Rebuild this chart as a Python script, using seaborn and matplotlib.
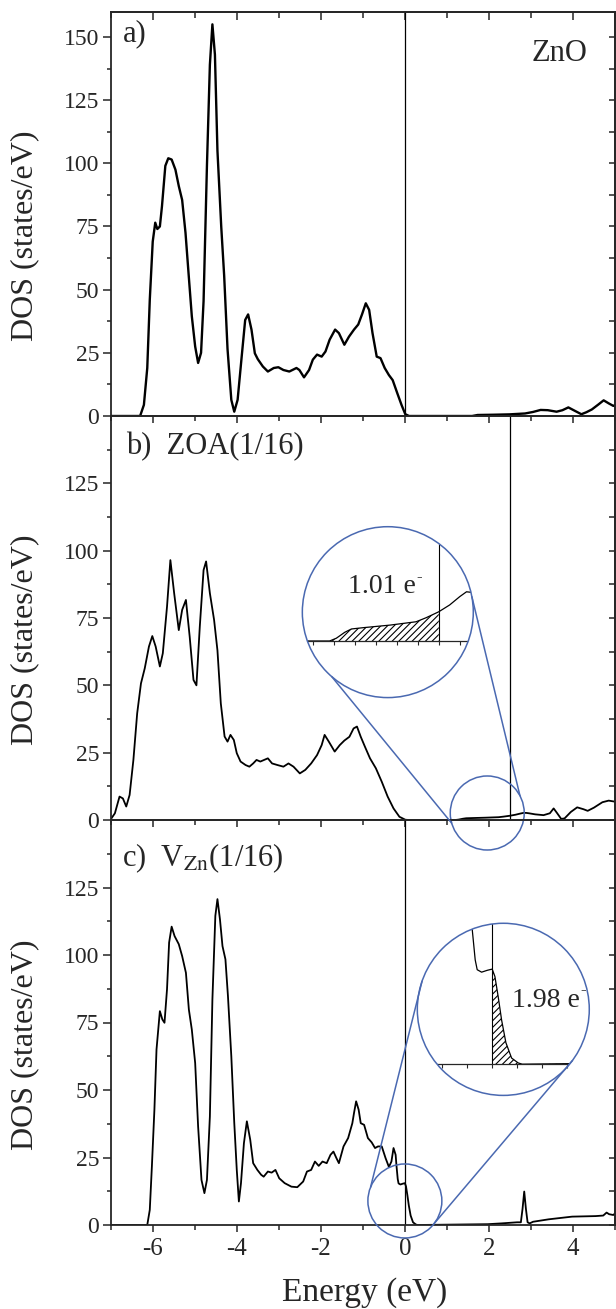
import numpy as np
import matplotlib
matplotlib.use("Agg")
import matplotlib.pyplot as plt
import matplotlib.patches as mpatches
from matplotlib.patches import ConnectionPatch
from matplotlib.ticker import MultipleLocator, FixedLocator
import seaborn as sns

sns.set_theme(style="ticks")
plt.rcParams["font.family"] = ["Liberation Serif", "DejaVu Serif"]
plt.rcParams["mathtext.fontset"] = "stix"
plt.rcParams["axes.unicode_minus"] = False
plt.rcParams["hatch.linewidth"] = 0.8

# ---------------------------------------------------------
# DOS data (energy in eV, DOS in states/eV)
# ---------------------------------------------------------
# a) ZnO
energy_a = [-7.0, -6.4, -6.30, -6.21, -6.13, -6.07, -6.0, -5.94, -5.89, -5.83, -5.78,
            -5.70, -5.63, -5.55, -5.46, -5.38, -5.30, -5.22, -5.15, -5.07, -4.99,
            -4.92, -4.85, -4.79, -4.71, -4.64, -4.58, -4.52, -4.46, -4.37, -4.30,
            -4.22, -4.13, -4.06, -3.98, -3.89, -3.80, -3.73, -3.65, -3.57, -3.50,
            -3.38, -3.26, -3.12, -3.01, -2.89, -2.75, -2.58, -2.51, -2.40, -2.28,
            -2.19, -2.09, -1.98, -1.89, -1.79, -1.66, -1.57, -1.44, -1.33, -1.21,
            -1.11, -1.02, -0.93, -0.85, -0.77, -0.67, -0.58, -0.48, -0.38, -0.29,
            -0.18, -0.08, 0.01, 0.10, 1.60, 1.73, 2.10, 2.49, 2.86, 3.05, 3.23,
            3.40, 3.61, 3.75, 3.89, 4.05, 4.20, 4.32, 4.45, 4.60, 4.73, 4.85, 4.96, 5.0]
dos_a = [0, 0, 0, 4.4, 19, 46, 69, 76.5, 74, 75, 83, 99, 102, 101.5, 97.5, 91, 85.5,
         72.5, 57, 39.5, 27.5, 21, 25, 45.5, 99, 139, 155, 143, 105, 75, 55.5,
         26.5, 6.4, 1.7, 6.4, 22.3, 38, 40.2, 34.2, 24.8, 22.5, 19.6, 17.6, 19,
         19.3, 18.2, 17.6, 19, 18.2, 15.3, 18.2, 22.3, 24.3, 23.5, 25.5, 30.2,
         34.2, 32.8, 28.2, 31.4, 34.2, 36.2, 40.2, 44.6, 42, 32.8, 23.5, 22.9,
         19, 16.2, 14.2, 9, 4.4, 0.7, 0, 0, 0.4, 0.5, 0.65, 1.0, 1.6, 2.4, 2.3,
         1.7, 2.3, 3.4, 2.0, 0.7, 1.5, 2.6, 4.5, 6.2, 5.0, 4.0, 4.3]

# b) ZOA(1/16)
energy_b = [-7.01, -6.90, -6.79, -6.71, -6.63, -6.55, -6.46, -6.37, -6.28, -6.19,
            -6.09, -6.01, -5.93, -5.83, -5.76, -5.66, -5.58, -5.49, -5.38, -5.30,
            -5.21, -5.12, -5.03, -4.96, -4.88, -4.79, -4.73, -4.64, -4.54, -4.46,
            -4.38, -4.29, -4.22, -4.15, -4.07, -4.00, -3.91, -3.79, -3.70, -3.61,
            -3.53, -3.44, -3.35, -3.26, -3.16, -3.03, -2.89, -2.77, -2.65, -2.50,
            -2.37, -2.23, -2.09, -1.98, -1.91, -1.81, -1.67, -1.55, -1.44, -1.32,
            -1.22, -1.14, -1.05, -0.95, -0.83, -0.69, -0.55, -0.41, -0.27, -0.13,
            0.01, 0.10, 1.20, 1.28, 1.38, 1.46, 1.60, 1.92, 2.23, 2.35, 2.50, 2.63,
            2.75, 2.83, 2.89, 2.95, 3.10, 3.30, 3.45, 3.54, 3.62, 3.72, 3.80, 3.95,
            4.10, 4.25, 4.35, 4.50, 4.70, 4.85, 5.0]
dos_b = [0, 2.5, 8.7, 8.0, 5.0, 9.3, 22.3, 39.6, 50.7, 56.3, 64.4, 68.3, 64.4, 57,
         61.9, 79.2, 96.5, 84.2, 70.5, 78, 81.7, 68, 52, 50, 71.8, 92.8, 96, 84.2,
         74.3, 63, 43.3, 31, 29.1, 31.6, 29.7, 24.8, 21.7, 20.4, 19.8, 21, 22.3,
         21.7, 22.3, 22.9, 21, 20.4, 19.8, 21, 19.8, 17.3, 18.6, 21, 24.1, 27.8,
         31.6, 29.1, 25.4, 27.8, 29.5, 30.9, 34, 34.7, 30.9, 27.2, 22.9, 19.2,
         14.2, 8.7, 4.3, 1.2, 0.1, 0, 0, 0.15, 0.47, 0.65, 0.72, 0.86, 1.04, 1.26,
         1.58, 1.95, 2.4, 2.66, 2.63, 2.5, 2.1, 1.8, 2.5, 4.3, 2.6, 0.4, 0.6, 3.0,
         4.7, 4.0, 3.4, 4.6, 6.6, 7.2, 6.8]

# c) V_Zn(1/16)
energy_c = [-7.0, -6.2, -6.13, -6.07, -6.02, -5.96, -5.91, -5.83, -5.77, -5.72, -5.66,
            -5.61, -5.55, -5.48, -5.38, -5.30, -5.21, -5.14, -5.07, -4.99, -4.92,
            -4.84, -4.77, -4.71, -4.64, -4.58, -4.51, -4.46, -4.40, -4.34, -4.27,
            -4.21, -4.13, -4.06, -4.00, -3.95, -3.90, -3.83, -3.76, -3.68, -3.61,
            -3.51, -3.42, -3.36, -3.26, -3.17, -3.08, -2.99, -2.86, -2.70, -2.56,
            -2.42, -2.33, -2.23, -2.14, -2.05, -1.96, -1.86, -1.77, -1.70, -1.63,
            -1.57, -1.46, -1.35, -1.25, -1.21, -1.16, -1.10, -1.05, -0.97, -0.88,
            -0.79, -0.71, -0.64, -0.55, -0.46, -0.38, -0.32, -0.27, -0.22, -0.20,
            -0.17, -0.15, -0.106, -0.05, 0.0, 0.027, 0.06, 0.094, 0.137, 0.194,
            0.26, 0.30, 1.97, 2.30, 2.67, 2.76, 2.80, 2.84, 2.88, 2.92, 2.97, 3.05,
            3.42, 3.98, 4.54, 4.72, 4.80, 4.86, 4.96, 5.0]
dos_c = [0, 0, 0, 5.6, 21.7, 42.7, 65, 79.2, 76.1, 74.9, 87.3, 104.6, 110.5, 107,
         104, 99.6, 93.4, 79.8, 72.4, 60, 36.5, 16.7, 11.8, 16.7, 40.2, 83.5, 114.5,
         120.7, 113.2, 103.3, 98.4, 84.8, 62.5, 37.9, 20.4, 8.7, 15.5, 30.3, 38.4,
         31.6, 22.9, 20.4, 18.6, 17.9, 19.8, 19.4, 20.4, 17.3, 15.5, 14.2, 14,
         16.1, 19.8, 20.4, 23.5, 21.9, 23.5, 22.9, 26, 27.2, 24.8, 22.9, 29.1,
         32.2, 37.7, 41.5, 45.8, 42.7, 37.7, 37.1, 32.2, 30.6, 28.5, 29.1, 29.1,
         24.8, 21.5, 23.5, 28.5, 26, 22, 17, 15.4, 15.0, 15.3, 15.5, 14.3, 11.0,
         7.2, 3.5, 1.0, 0.2, 0, 0.3, 0.6, 1.0, 1.0, 6.0, 12.4, 6.0, 1.0, 0.6, 1.2,
         2.1, 3.1, 3.3, 3.5, 4.6, 4.0, 3.7, 4.3]

fermi_levels = [0.0, 2.5, 0.0]
panel_tags = ["a)", "b)  ZOA(1/16)", r"c)  V$_{\mathrm{Zn}}$(1/16)"]
charges = ["1.01 e", "1.98 e"]

BLUE = "#4a69b1"
W, H = 616, 1309
fig = plt.figure(figsize=(W / 100, H / 100), dpi=100)


def add_panel(top, bottom):
    return fig.add_axes([110.7 / W, 1 - bottom / H, (615 - 110.7) / W, (bottom - top) / H])


ax_a = add_panel(11.7, 416)
ax_b = add_panel(416, 820)
ax_c = add_panel(820, 1225)

panels = [
    (ax_a, energy_a, dos_a, 160, np.arange(0, 151, 25), 1.7),
    (ax_b, energy_b, dos_b, 150, np.arange(0, 126, 25), 1.3),
    (ax_c, energy_c, dos_c, 150, np.arange(0, 126, 25), 1.3),
]

for i, (ax, e, d, ymax, yt, lw) in enumerate(panels):
    sns.lineplot(x=e, y=d, ax=ax, color="black", lw=lw, estimator=None, sort=False)
    ax.axvline(fermi_levels[i], color="black", lw=0.9)
    ax.set_xlim(-7, 5)
    ax.set_ylim(0, ymax)
    ax.set_facecolor("none")
    ax.xaxis.set_major_locator(MultipleLocator(2))
    ax.xaxis.set_minor_locator(MultipleLocator(1))
    ax.yaxis.set_major_locator(FixedLocator(yt))
    ax.yaxis.set_minor_locator(FixedLocator(yt + 12.5))
    ax.tick_params(axis="y", which="major", direction="out", length=5.8, width=1.1,
                   labelsize=17, pad=2.4)
    ax.tick_params(axis="y", which="minor", direction="out", length=3, width=1.1)
    ax.tick_params(axis="x", which="major", direction="out", length=4.8, width=1.1,
                   labelsize=18, pad=4.5, labelbottom=(i == 2))
    ax.tick_params(axis="x", which="minor", direction="out", length=3.6, width=1.1)
    for sp in ax.spines.values():
        sp.set_linewidth(1.3)
    ax.set_xlabel("")
    ax.set_ylabel("DOS (states/eV)", fontsize=23)
    ax.yaxis.set_label_coords(-0.1416, 0.445)

    sec = ax.secondary_yaxis("right")
    sec.yaxis.set_major_locator(FixedLocator(yt))
    sec.yaxis.set_minor_locator(FixedLocator(yt + 12.5))
    sec.tick_params(which="both", direction="in", length=4.5, width=1.1, labelright=False)
    sec.spines["right"].set_linewidth(1.3)

top = ax_a.secondary_xaxis("top")
top.xaxis.set_major_locator(MultipleLocator(2))
top.xaxis.set_minor_locator(MultipleLocator(1))
top.tick_params(which="major", direction="in", length=6, width=1.1, labeltop=False)
top.tick_params(which="minor", direction="in", length=4, width=1.1)
top.spines["top"].set_linewidth(1.3)

ax_c.set_xlabel("Energy (eV)", fontsize=24)
ax_c.xaxis.set_label_coords(0.503, -0.128)

# panel captions
ax_a.text(0.024, 0.926, panel_tags[0], transform=ax_a.transAxes, fontsize=22, va="baseline")
ax_a.text(0.946, 0.879, "ZnO", transform=ax_a.transAxes, fontsize=22, ha="right", va="baseline")
ax_b.text(0.03, 0.905, panel_tags[1], transform=ax_b.transAxes, fontsize=22, va="baseline")
ax_c.text(0.022, 0.886, panel_tags[2], transform=ax_c.transAxes, fontsize=22, va="baseline")


def magnifier(ax, bounds, e, d, ef, xlim, ylim, ticks, keep_left, label, label_xy,
              spot, big_angles, small_angles):
    ax_in = ax.inset_axes(bounds)
    ax_in.set_facecolor("none")
    circ = mpatches.Circle((0.5, 0.5), 0.5, transform=ax_in.transAxes, fill=False,
                           ec=BLUE, lw=1.1, clip_on=False, zorder=5)
    ax_in.add_patch(circ)
    sns.lineplot(x=e, y=d, ax=ax_in, color="black", lw=0.9, estimator=None, sort=False)
    ax_in.lines[-1].set_clip_path(circ)
    e_arr, d_arr = np.asarray(e), np.asarray(d)
    mask = e_arr <= ef if keep_left else e_arr >= ef
    hat = ax_in.fill_between(e_arr, 0, d_arr, where=mask, facecolor="none",
                             edgecolor="black", hatch="/////", linewidth=0)
    hat.set_clip_path(circ)
    ax_in.set_xlim(xlim)
    ax_in.set_ylim(ylim)
    base = -ylim[0] / (ylim[1] - ylim[0])
    vl = ax_in.axvline(ef, ymin=base, ymax=1, color="black", lw=0.8)
    vl.set_clip_path(circ)
    for side in ["left", "right", "top"]:
        ax_in.spines[side].set_visible(False)
    sp = ax_in.spines["bottom"]
    sp.set_position(("data", 0))
    sp.set_linewidth(0.9)
    sp.set_clip_on(True)
    sp.set_clip_path(circ)
    ax_in.set_xticks(ticks)
    ax_in.set_yticks([])
    ax_in.set_xlabel("")
    ax_in.set_ylabel("")
    ax_in.tick_params(axis="x", direction="out", length=3, width=0.8, labelbottom=False)
    t = ax_in.text(label_xy[0], label_xy[1], label, transform=ax_in.transAxes,
                   fontsize=20, va="baseline", ha="left")
    # small raised minus of the electron symbol
    ax_in.annotate("-", xy=(1.0, 0.0), xycoords=t, fontsize=12, ha="left", va="baseline",
                   xytext=(0.5, 13.0), textcoords="offset points")

    # small circle on the main curve
    cx, cy, rx, ry = spot
    ax.add_patch(mpatches.Ellipse((cx, cy), 2 * rx, 2 * ry, fill=False, ec=BLUE,
                                  lw=1.1, clip_on=False, zorder=4))
    for ab, asm in zip(big_angles, small_angles):
        pa = (0.5 + 0.5 * np.cos(np.radians(ab)), 0.5 + 0.5 * np.sin(np.radians(ab)))
        pb = (cx + rx * np.cos(np.radians(asm)), cy + ry * np.sin(np.radians(asm)))
        con = ConnectionPatch(xyA=pa, coordsA=ax_in.transAxes, xyB=pb, coordsB=ax.transData,
                              color=BLUE, lw=1.1, zorder=4)
        fig.add_artist(con)


magnifier(ax_b, [0.380, 0.303, 0.339, 0.423], energy_b, dos_b, fermi_levels[1],
          (0.875, 2.911), (-3.06, 6.18), np.arange(1.0, 2.8, 0.25), True,
          charges[0], (0.266, 0.61), (1.96, 2.6, 0.88, 13.74), (-131, 10.4), (-164, 27.8))

magnifier(ax_c, [0.608, 0.320, 0.341, 0.425], energy_c, dos_c, fermi_levels[2],
          (-0.749, 0.971), (-5.09, 22.97), np.arange(-0.5, 0.8, 0.25), False,
          charges[1], (0.548, 0.516), (0.0, 8.9, 0.88, 13.7), (161, -36.5), (158, -38))

fig.savefig("out.png", dpi=100)
